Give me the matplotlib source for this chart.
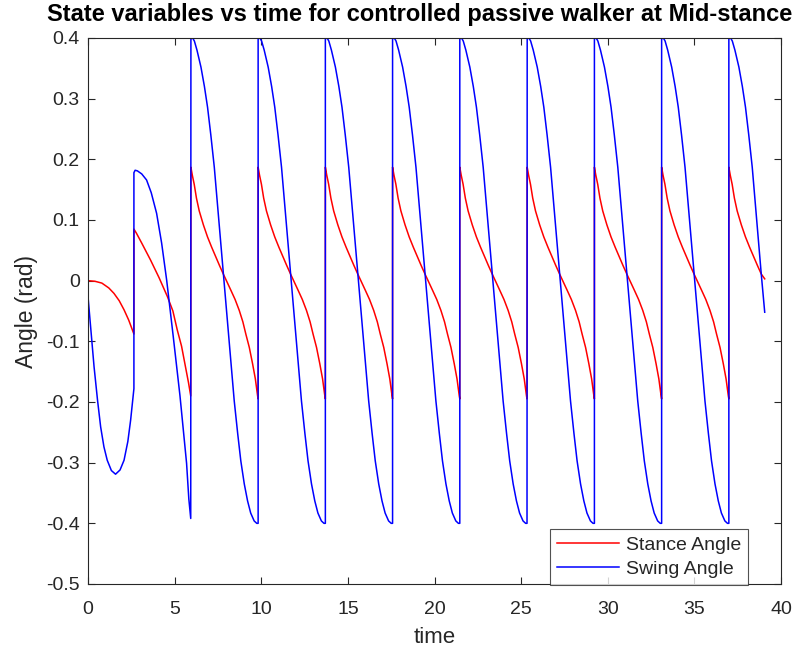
import numpy as np
import matplotlib
matplotlib.use('Agg')
import matplotlib.pyplot as plt

plt.rcParams['font.family'] = ['Liberation Sans', 'DejaVu Sans']

# first step (from rest)
step1_t_red = [0, 0.4, 0.8, 1.2, 1.5, 1.8, 2.08, 2.35, 2.65]
step1_red = [0.0, -0.001, -0.004, -0.012, -0.021, -0.033, -0.048, -0.065, -0.088]
step1_t_blue = [0, 0.15, 0.35, 0.55, 0.73, 0.92, 1.11, 1.35, 1.59, 1.85, 2.08, 2.30, 2.46, 2.65]
step1_blue = [-0.026, -0.075, -0.142, -0.197, -0.241, -0.274, -0.296, -0.313, -0.319,
              -0.312, -0.296, -0.265, -0.230, -0.178]

# second step
step2_t_red = [2.65, 2.8, 3.1, 3.61, 4.1, 4.58, 4.9, 5.15, 5.4, 5.63, 5.80, 5.93]
step2_red = [0.085, 0.078, 0.062, 0.034, 0.005, -0.026, -0.050, -0.081, -0.108, -0.142, -0.168, -0.190]
step2_t_blue = [2.65, 2.72, 2.85, 3.1, 3.38, 3.65, 3.96, 4.25, 4.54, 4.92, 5.31, 5.69, 5.82, 5.93]
step2_blue = [0.178, 0.182, 0.181, 0.176, 0.166, 0.145, 0.111, 0.062, 0.001, -0.092, -0.190,
              -0.301, -0.360, -0.392]

# steady gait: step start times and the shape of one step (time since heel strike)
step_starts = [5.94, 9.82, 13.70, 17.58, 21.46, 25.35, 29.23, 33.11, 36.99]
phase_red = [0.0, 0.08, 0.19, 0.32, 0.48, 0.72, 0.96, 1.20, 1.44, 1.65, 1.87, 2.10, 2.31,
             2.55, 2.79, 3.00, 3.17, 3.37, 3.56, 3.72, 3.85, 3.88]
steady_red = [0.187, 0.174, 0.159, 0.136, 0.115, 0.092, 0.072, 0.055, 0.039, 0.025, 0.011,
              -0.003, -0.016, -0.031, -0.049, -0.068, -0.088, -0.110, -0.137, -0.162,
              -0.190, -0.195]
phase_blue = [0.0, 0.08, 0.20, 0.35, 0.58, 0.78, 0.96, 1.15, 1.35, 1.60, 1.87, 2.12, 2.35,
              2.50, 2.70, 2.88, 3.08, 3.27, 3.45, 3.65, 3.80, 3.88]
steady_blue = [0.398, 0.401, 0.395, 0.380, 0.352, 0.320, 0.286, 0.240, 0.187, 0.103, 0.011,
               -0.072, -0.150, -0.198, -0.252, -0.297, -0.335, -0.363, -0.383, -0.396,
               -0.400, -0.400]

# simulation stops part way through the last step
t_end = 39.06
end_red = 0.003
end_blue = -0.052


def build(t1, y1, t2, y2, phase, prof, end_val):
  t = list(t1) + list(t2)
  y = list(y1) + list(y2)
  for k, t0 in enumerate(step_starts):
    last = k == len(step_starts) - 1
    for p, v in zip(phase, prof):
      if last and t0 + p >= t_end:
        break
      t.append(t0 + p)
      y.append(v)
  t.append(t_end)
  y.append(end_val)
  return np.array(t), np.array(y)


t_red, y_red = build(step1_t_red, step1_red, step2_t_red, step2_red, phase_red, steady_red, end_red)
t_blue, y_blue = build(step1_t_blue, step1_blue, step2_t_blue, step2_blue, phase_blue, steady_blue, end_blue)

fig = plt.figure(figsize=(8.05, 6.51), dpi=100)
ax = fig.add_axes([88/805, 1 - 584/651, (781 - 88)/805, (584 - 38)/651])

ax.plot(t_red, y_red, color='r', lw=1.1, label='Stance Angle')
ax.plot(t_blue, y_blue, color='b', lw=1.1, label='Swing Angle')

ax.set_xlim(0, 40)
ax.set_ylim(-0.5, 0.4)
ax.set_xticks(np.arange(0, 41, 5))
yt = np.round(np.arange(-0.5, 0.41, 0.1), 1)
ax.set_yticks(yt)
ax.set_yticklabels(['0' if v == 0 else '%g' % v for v in yt])

grey = '#262626'
for s in ax.spines.values():
  s.set_color(grey)
  s.set_linewidth(0.8)
ax.tick_params(direction='in', top=True, right=True, length=5, width=0.8,
               colors=grey, labelsize=14)
ax.tick_params(axis='x', pad=12)
ax.tick_params(axis='y', pad=6)

ax.set_xlabel('time', fontsize=16, color=grey, labelpad=7)
ax.set_ylabel('Angle (rad)', fontsize=16.5, color=grey, labelpad=6)
fig.text(420/805, 1 - 15/651, 'State variables vs time for controlled passive walker at Mid-stance',
         ha='center', va='center', fontsize=17, fontweight='bold', color='black')

leg = ax.legend(loc='lower right', bbox_to_anchor=(748/805, 1 - 585/651), bbox_transform=fig.transFigure,
                fontsize=14, frameon=True, fancybox=False, borderaxespad=0,
                handlelength=3.2, handletextpad=0.35, borderpad=0.35, labelspacing=0.35)
leg.get_frame().set_edgecolor(grey)
leg.get_frame().set_linewidth(0.8)
for t in leg.get_texts():
  t.set_color(grey)

fig.savefig('out.png', dpi=100)
